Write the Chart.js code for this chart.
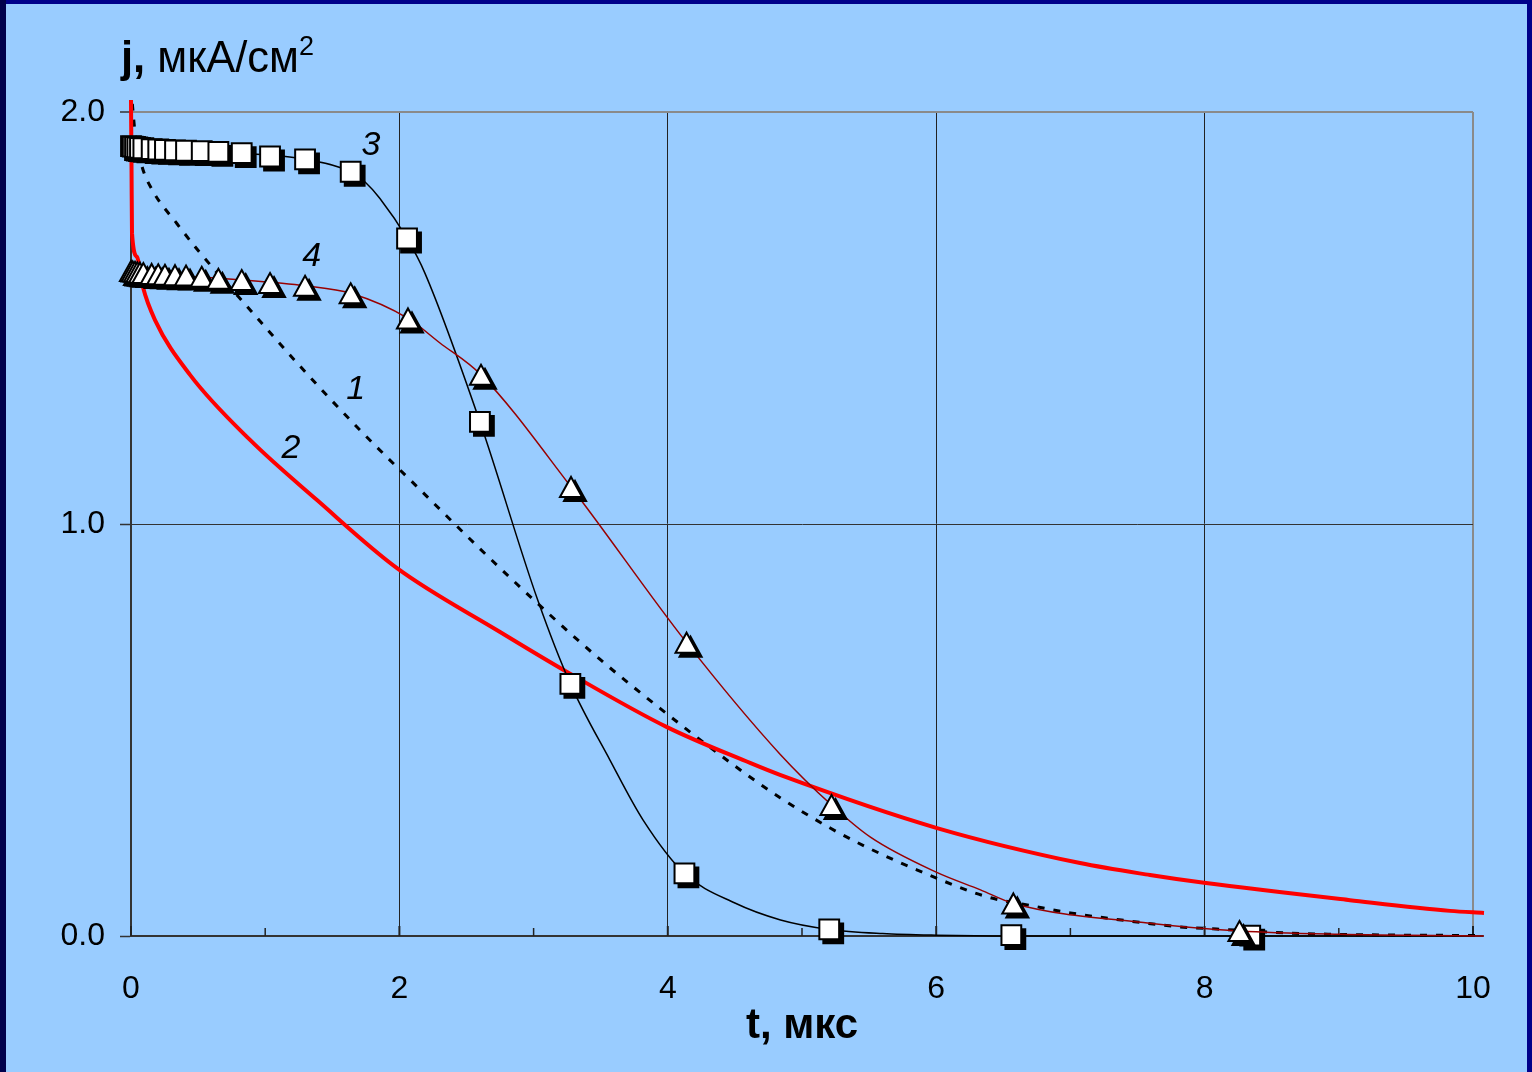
<!DOCTYPE html>
<html>
<head>
<meta charset="utf-8">
<script src="https://cdn.jsdelivr.net/npm/chart.js@4.4.1/dist/chart.umd.min.js"></script>
<style>
html, body { margin: 0; padding: 0; background: #00008a; overflow: hidden; }
#frameLeft { position: absolute; left: 0; top: 0; width: 6px; height: 1072px; background: #00004c; }
#panel { position: absolute; left: 6px; top: 4px; width: 1521px; height: 1068px; background: #99ccff; }
#yTitle { position: absolute; left: 115px; top: 32px; font-family: "Liberation Sans", Arial, sans-serif;
  font-size: 43.5px; line-height: 43.5px; color: #000; white-space: nowrap; }
#yTitle .sup { font-size: 27px; position: relative; top: -17px; }
</style>
</head>
<body>
<div id="frameLeft"></div>
<div id="panel">
  <canvas id="chart"></canvas>
  <div id="yTitle"><b>j,</b> мкА/см<span class="sup">2</span></div>
</div>
<script>
// curve 1 (dotted)
var s1T = [0.01, 0.03, 0.08, 0.16, 0.34, 0.51, 0.86, 1.24, 1.7, 2.18, 2.6, 3.12, 3.5, 3.94, 4.49, 4.84, 5.21, 5.48, 5.86, 6.38, 6.72, 7.0, 7.4, 7.82, 8.09, 8.64, 9.2, 10.08];
var s1J = [2.02, 1.95, 1.87, 1.81, 1.73, 1.66, 1.53, 1.39, 1.23, 1.075, 0.94, 0.78, 0.67, 0.553, 0.415, 0.335, 0.262, 0.216, 0.160, 0.095, 0.073, 0.056, 0.038, 0.022, 0.017, 0.007, 0.003, 0.001];

// curve 2 (red)
var s2T = [0, 0.004, 0.0075, 0.045, 0.089, 0.179, 0.44, 0.887, 1.386, 1.982, 2.75, 3.249, 3.994, 4.613, 4.836, 6.006, 7.072, 7.593, 7.996, 9.083, 9.829, 10.082];
var s2J = [2.029, 1.86, 1.706, 1.648, 1.575, 1.495, 1.362, 1.204, 1.058, 0.893, 0.738, 0.641, 0.507, 0.42, 0.391, 0.262, 0.177, 0.148, 0.129, 0.087, 0.061, 0.056];

// curve 3 (squares)
var s3T = [0, 0.013, 0.03, 0.047, 0.067, 0.092, 0.154, 0.203, 0.253, 0.328, 0.41, 0.527, 0.651, 0.825, 1.036, 1.297, 1.637, 2.057, 2.6, 3.274, 4.124, 5.203, 6.56, 8.34];
var s3J = [1.917, 1.916, 1.915, 1.914, 1.913, 1.912, 1.910, 1.909, 1.908, 1.907, 1.906, 1.905, 1.903, 1.900, 1.892, 1.885, 1.855, 1.693, 1.248, 0.612, 0.152, 0.016, 0.002, 0.001];
var s3LineT = [0, 0.3, 0.8, 1.3, 1.637, 1.744, 1.855, 2.057, 2.19, 2.6, 3.03, 3.274, 3.569, 3.815, 4.124, 4.5, 4.84, 5.203, 5.6, 6.0, 6.56, 8.34, 10.08];
var s3LineJ = [1.917, 1.907, 1.900, 1.885, 1.855, 1.83, 1.79, 1.693, 1.609, 1.248, 0.816, 0.612, 0.427, 0.282, 0.152, 0.08, 0.039, 0.016, 0.006, 0.002, 0.0, 0.0, 0.0];

// curve 4 (triangles)
var s4T = [0, 0.013, 0.03, 0.047, 0.067, 0.092, 0.154, 0.203, 0.253, 0.328, 0.41, 0.527, 0.651, 0.825, 1.036, 1.297, 1.637, 2.064, 2.608, 3.279, 4.14, 5.22, 6.575, 8.26];
var s4J = [1.614, 1.613, 1.612, 1.611, 1.610, 1.609, 1.607, 1.606, 1.605, 1.604, 1.603, 1.600, 1.595, 1.592, 1.585, 1.578, 1.56, 1.499, 1.362, 1.09, 0.712, 0.318, 0.079, 0.012];
var s4LineT = [0, 0.3, 0.8, 1.3, 1.637, 2.064, 2.3, 2.608, 3.279, 4.14, 4.84, 5.22, 5.51, 6.0, 6.33, 6.575, 7.59, 8.26, 9.0, 10.08];
var s4LineJ = [1.614, 1.604, 1.593, 1.578, 1.56, 1.499, 1.44, 1.362, 1.09, 0.712, 0.44, 0.318, 0.24, 0.155, 0.112, 0.079, 0.031, 0.012, 0.004, 0.0];

// axes
var xTicks = [0, 2, 4, 6, 8, 10];
var xMinorTicks = [1, 3, 5, 7, 9];
var yTicks = [0, 1, 2];

// curve numbers
var curveNames = ["1", "2", "3", "4"];
var nameT = [1.675, 1.191, 1.788, 1.347];
var nameJ = [1.327, 1.183, 1.919, 1.649];

function toPts(t, j) {
  return t.map(function (v, i) { return { x: v, y: j[i] }; });
}

function drawMarker(ctx, style, r, x, y) {
  ctx.beginPath();
  if (style === "rect") {
    var h = r * Math.SQRT1_2;
    ctx.rect(x - h, y - h, 2 * h, 2 * h);
  } else {
    var hh = r * 0.77, w = r * 0.85;
    ctx.moveTo(x, y - hh);
    ctx.lineTo(x + w, y + hh);
    ctx.lineTo(x - w, y + hh);
    ctx.closePath();
  }
  ctx.fill();
  ctx.stroke();
}

// markers with a hard drop shadow, each drawn right after its shadow
var markerShadow = {
  id: "markerShadow",
  beforeDatasetDraw: function (chart, args) {
    var ds = chart.data.datasets[args.index];
    if (!ds.shadow) return;
    var ctx = chart.ctx;
    ctx.save();
    args.meta.data.forEach(function (pt) {
      var o = pt.options;
      ctx.lineWidth = o.borderWidth;
      ctx.lineJoin = "miter";
      ctx.fillStyle = "#000";
      ctx.strokeStyle = "#000";
      drawMarker(ctx, o.pointStyle, o.radius, pt.x + 4, pt.y + 4);
      ctx.fillStyle = o.backgroundColor;
      ctx.strokeStyle = o.borderColor;
      drawMarker(ctx, o.pointStyle, o.radius, pt.x, pt.y);
    });
    ctx.restore();
    return false;
  }
};

// small tick marks pointing into the plot on the x axis
var innerTicks = {
  id: "innerTicks",
  beforeDatasetsDraw: function (chart) {
    var ctx = chart.ctx, xs = chart.scales.x, y0 = chart.scales.y.getPixelForValue(0);
    ctx.save();
    ctx.strokeStyle = "#222";
    ctx.lineWidth = 2;
    xTicks.forEach(function (v) {
      var px = xs.getPixelForValue(v);
      ctx.beginPath(); ctx.moveTo(px, y0); ctx.lineTo(px, y0 - 10); ctx.stroke();
    });
    ctx.lineWidth = 1.5;
    xMinorTicks.forEach(function (v) {
      var px = xs.getPixelForValue(v);
      ctx.beginPath(); ctx.moveTo(px, y0); ctx.lineTo(px, y0 - 8); ctx.stroke();
    });
    ctx.restore();
  }
};

var curveLabels = {
  id: "curveLabels",
  afterDatasetsDraw: function (chart) {
    var ctx = chart.ctx, xs = chart.scales.x, ys = chart.scales.y;
    ctx.save();
    ctx.font = "italic 34px 'Liberation Sans', Arial, sans-serif";
    ctx.fillStyle = "#000";
    ctx.textAlign = "center";
    ctx.textBaseline = "middle";
    curveNames.forEach(function (n, i) {
      ctx.fillText(n, xs.getPixelForValue(nameT[i]), ys.getPixelForValue(nameJ[i]));
    });
    ctx.restore();
  }
};

var config = {
  type: "line",
  data: {
    datasets: [
      {
        data: toPts(s1T, s1J),
        borderColor: "#000",
        borderWidth: 3,
        borderDash: [7, 9],
        pointRadius: 0,
        cubicInterpolationMode: "monotone",
        clip: false,
        order: 6
      },
      {
        data: toPts(s2T, s2J),
        borderColor: "#ff0000",
        borderWidth: 4,
        pointRadius: 0,
        cubicInterpolationMode: "monotone",
        clip: false,
        order: 5
      },
      {
        data: toPts(s3LineT, s3LineJ),
        borderColor: "#000",
        borderWidth: 1.5,
        pointRadius: 0,
        cubicInterpolationMode: "monotone",
        clip: false,
        order: 4
      },
      {
        data: toPts(s3T, s3J),
        showLine: false,
        pointStyle: "rect",
        pointRadius: 14,
        pointBackgroundColor: "#fff",
        pointBorderColor: "#000",
        pointBorderWidth: 2,
        shadow: true,
        clip: false,
        order: 3
      },
      {
        data: toPts(s4LineT, s4LineJ),
        borderColor: "#990000",
        borderWidth: 1.5,
        pointRadius: 0,
        cubicInterpolationMode: "monotone",
        clip: false,
        order: 2
      },
      {
        data: toPts(s4T, s4J),
        showLine: false,
        pointStyle: "triangle",
        pointRadius: 13,
        pointBackgroundColor: "#fff",
        pointBorderColor: "#000",
        pointBorderWidth: 2,
        shadow: true,
        clip: false,
        order: 1
      }
    ]
  },
  options: {
    responsive: true,
    maintainAspectRatio: false,
    animation: false,
    events: [],
    layout: { padding: { left: 0, right: 54, top: 108, bottom: 0 } },
    plugins: { legend: { display: false }, tooltip: { enabled: false } },
    scales: {
      x: {
        type: "linear",
        min: 0,
        max: 10,
        afterBuildTicks: function (s) { s.ticks = xTicks.map(function (v) { return { value: v }; }); },
        afterFit: function (s) { s.height = 136; },
        ticks: {
          color: "#000",
          padding: 34,
          maxRotation: 0,
          font: { family: "'Liberation Sans', Arial, sans-serif", size: 32 }
        },
        grid: {
          drawTicks: false,
          color: function (c) { return c.tick && c.tick.value === 10 ? "#8a8a8a" : "#222"; },
          lineWidth: function (c) { return c.tick && c.tick.value === 10 ? 2 : 1; }
        },
        border: { color: "#333", width: 2 },
        title: {
          display: true,
          text: "t, мкс",
          color: "#000",
          font: { family: "'Liberation Sans', Arial, sans-serif", size: 42, weight: "bold" },
          padding: { top: 0, bottom: 20 }
        }
      },
      y: {
        type: "linear",
        min: 0,
        max: 2,
        afterBuildTicks: function (s) { s.ticks = yTicks.map(function (v) { return { value: v }; }); },
        afterFit: function (s) { s.width = 125; },
        ticks: {
          color: "#000",
          padding: 15,
          font: { family: "'Liberation Sans', Arial, sans-serif", size: 32 },
          callback: function (v) { return Number(v).toFixed(1); }
        },
        grid: {
          tickLength: 11,
          tickColor: "#333",
          tickWidth: 1.5,
          color: function (c) { return c.tick && c.tick.value === 2 ? "#8a8a8a" : "#333"; },
          lineWidth: function (c) { return c.tick && c.tick.value === 2 ? 2 : 1; }
        },
        border: { color: "#333", width: 2 }
      }
    }
  },
  plugins: [markerShadow, innerTicks, curveLabels]
};

window.onload = function () {
  var ctx = document.getElementById("chart").getContext("2d");
  window.myChart = new Chart(ctx, config);
};
</script>
</body>
</html>
